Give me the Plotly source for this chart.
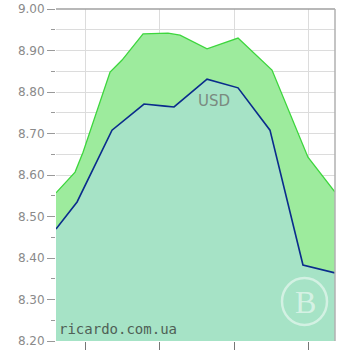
import plotly.graph_objects as go

# x positions in grid-interval units (vertical gridlines at 0,1,2,3)
green_x = [-0.39, -0.134, -0.027, 0.336, 0.497, 0.779, 1.114, 1.275, 1.638, 2.054, 2.510, 2.993, 3.356]
green_y = [8.557, 8.607, 8.655, 8.848, 8.877, 8.940, 8.942, 8.937, 8.904, 8.930, 8.853, 8.643, 8.559]

blue_x = [-0.39, -0.107, 0.362, 0.564, 0.792, 1.074, 1.195, 1.638, 2.054, 2.483, 2.926, 3.356]
blue_y = [8.470, 8.535, 8.708, 8.737, 8.771, 8.766, 8.764, 8.831, 8.810, 8.708, 8.383, 8.364]

y_ticks = [8.2, 8.3, 8.4, 8.5, 8.6, 8.7, 8.8, 8.9, 9.0]
x_ticks = [0, 1, 2, 3]

fig = go.Figure()
fig.add_trace(go.Scatter(x=green_x, y=green_y, mode="lines", fill="tozeroy",
                         fillcolor="#9deb9d", line=dict(color="#3dd63d", width=1.3),
                         hoverinfo="skip", showlegend=False))
fig.add_trace(go.Scatter(x=blue_x, y=blue_y, mode="lines", fill="tozeroy",
                         fillcolor="#a6e3c6", line=dict(color="#0a2c8c", width=1.6),
                         hoverinfo="skip", showlegend=False))

fig.update_layout(
    width=350, height=350,
    margin=dict(l=56, r=15, t=9, b=9, autoexpand=False),
    paper_bgcolor="white", plot_bgcolor="white",
    xaxis=dict(range=[-0.39, 3.356], tickvals=x_ticks, showticklabels=False, automargin=False,
               ticks="outside", ticklen=9, tickcolor="#777", showgrid=True,
               gridcolor="#dcdcdc", gridwidth=1, zeroline=False, showline=False, fixedrange=True),
    yaxis=dict(range=[8.2, 9.0], tickvals=y_ticks, tickformat=".2f", automargin=False,
               ticks="outside", ticklen=8, tickcolor="#999",
               tickfont=dict(family="DejaVu Sans", size=12, color="#8a8a8a"),
               showgrid=True, gridcolor="#dcdcdc", gridwidth=1,
               minor=dict(dtick=0.05, tick0=8.2, ticks="outside", ticklen=4, tickcolor="#999",
                          showgrid=True, gridcolor="#dcdcdc", gridwidth=1),
               zeroline=False, showline=False, fixedrange=True),
    shapes=[
        dict(type="line", xref="paper", yref="paper", x0=0, x1=1, y0=1, y1=1,
             line=dict(color="#a0a0a0", width=1.5)),
        dict(type="line", xref="paper", yref="paper", x0=1, x1=1, y0=0, y1=1,
             line=dict(color="#b0b0b0", width=1.5)),
        dict(type="circle", xref="paper", yref="paper",
             x0=(282 - 56) / 279, x1=(327 - 56) / 279,
             y0=(341 - 325) / 332, y1=(341 - 278) / 332,
             line=dict(color="rgba(255,255,255,0.5)", width=2.5)),
    ],
    annotations=[
        dict(text="USD", xref="paper", yref="paper", x=(214 - 56) / 279, y=(341 - 101) / 332,
             xanchor="center", yanchor="middle", showarrow=False,
             font=dict(family="DejaVu Sans", size=15, color="#7a8a80")),
        dict(text="ricardo.com.ua", xref="paper", yref="paper", x=(57 - 56) / 279, y=(341 - 329) / 332,
             xanchor="left", yanchor="middle", showarrow=False,
             font=dict(family="DejaVu Sans Mono", size=14, color="#4f5f55")),
        dict(text="В", xref="paper", yref="paper", x=(305 - 56) / 279, y=(341 - 302) / 332,
             xanchor="center", yanchor="middle", showarrow=False,
             font=dict(family="Liberation Serif", size=32, color="rgba(255,255,255,0.55)")),
    ],
)

fig.write_html("out.html")
